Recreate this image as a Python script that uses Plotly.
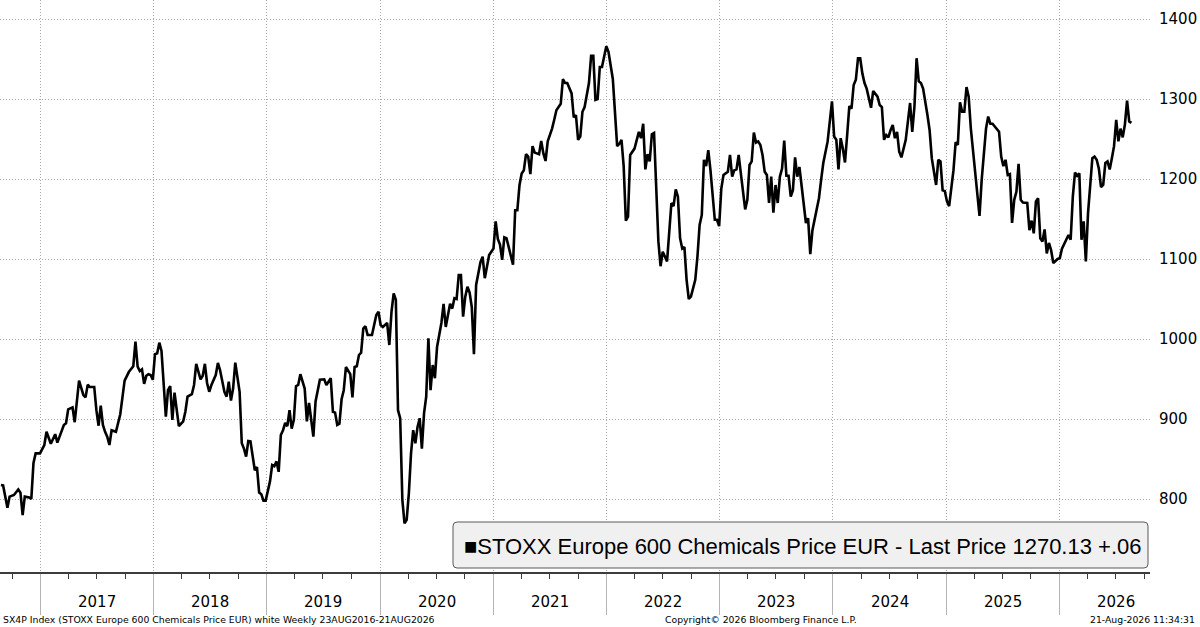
import numpy as np
import pandas as pd
import plotly.graph_objects as go

# ---- data (weekly closes; week index counted from 26-Aug-2016) ----
start_date = "2016-08-26"
weeks = [0,1,3,4,6,8,9,10,11,13,14,15,16,18,20,21,23,25,26,28,29,30,31,33,34,36,38,39,40,41,43,44,45,46,47,48,49,50,51,53,55,57,59,61,62,63,64,65,66,67,68,69,70,71,72,73,74,76,77,78,79,80,81,82,84,85,86,88,89,90,92,93,94,95,96,97,99,100,101,103,104,105,106,107,108,110,111,112,113,114,115,116,117,118,119,120,121,122,123,124,125,126,127,128,129,130,131,132,133,134,135,136,137,138,140,141,142,144,145,147,149,150,152,153,154,155,156,157,158,159,161,162,163,164,165,166,167,168,169,171,173,174,175,176,178,179,180,181,182,183,184,185,186,187,188,189,190,191,192,193,194,195,196,197,198,199,200,201,203,204,205,206,207,208,209,210,211,212,213,214,215,216,217,218,219,221,222,223,225,227,228,229,230,231,232,233,234,236,237,238,239,240,241,242,243,244,245,246,248,249,250,251,252,254,255,256,258,259,260,261,263,264,265,266,267,268,269,271,272,273,274,275,276,277,279,280,282,283,284,285,286,287,288,289,290,292,293,294,295,296,297,298,299,300,301,302,303,304,305,307,308,309,310,311,312,313,314,315,316,317,318,320,321,322,323,324,325,326,327,328,329,330,331,332,333,335,336,337,338,339,340,341,343,344,345,346,347,348,349,350,351,352,353,354,355,356,357,358,359,360,361,362,363,364,365,366,367,368,370,371,372,373,374,376,377,378,379,381,382,383,384,385,386,387,388,389,390,391,392,393,394,395,396,397,398,399,401,402,404,405,406,407,408,409,410,411,412,413,414,415,417,418,419,420,421,422,423,424,425,427,428,429,430,431,432,433,434,435,436,437,439,440,441,442,443,444,445,446,447,448,450,451,452,453,454,455,456,457,459,460,461,462,463,464,465,466,467,468,469,470,471,473,474,475,476,477,478,479,480,481,482,483,484,485,487,488,489,491,492,493,494,495,496,497,498,499,500,501,502,503,504,505,506,507,508,509,510,511,512,513,514,515,516,517,518,519,520,521]
prices = [817.5,817,789,803,805,812,808,780,803,802,800,845,857,857,867.5,884,869,881,870.5,884,892.5,894.6,912,914.6,896,948,930,927,943,940,940,911,891.6,916.7,892.5,884,878,867.5,886,884,906,948,959,966,996.7,965.4,960,962,944,954,956,955,949,981,982,995.4,985,903,936,941,899,933,915,891,897,909,928,931,942.5,969,949.6,954,969,945,934,942.5,955,970,961,934,928,946.7,923,938,970.5,934,869.6,863,853,872.5,872,853,836,840,808,806,798,798,810,822,842.5,841,847,834,880,886,895,891,911,888,899,941,942.5,956,938,897,920,878,922,949,949.6,942.5,951,909,908,892.5,894,924.6,936,965,956,927,965,966,980,983,1013,1016,1005,1005,1030,1034,1017.5,1015,1020,992.5,1034,1057,1049,911,901,799,769.6,774,807,857,886,869.6,890,901,863,907,928,1001,936,967.5,951,990,1020,1044,1015,1032,1044,1038,1051,1050,1080,1080,1028,1053,1065.4,1058,1040,981,1067.5,1096,1103,1076,1105,1113,1147,1125,1118,1099,1127,1126,1114,1093,1161,1161,1192.5,1207,1211,1231,1228,1206,1241,1233,1231,1247.5,1232,1222.5,1247,1263,1274,1286,1294,1325,1320,1320,1307,1277,1280,1249,1253,1284,1290,1320,1354,1354,1299,1300,1340,1340,1366,1359,1325,1283,1241,1244,1249,1216,1148,1153,1230,1238,1249,1259,1251,1269,1212,1231,1222,1256,1257.5,1199,1122,1091,1109,1097,1136,1170,1166,1187,1178,1126,1113,1115,1074,1050,1053,1074,1103,1142.5,1155,1224,1216,1236,1211,1178,1149,1149,1141,1188,1205,1209,1230,1203,1211,1212,1230,1207,1162,1174,1217.5,1222,1258,1245.6,1247,1242.5,1230,1209,1205,1170,1203,1158,1192.5,1170,1203,1213,1248,1204,1204,1178,1186,1227,1203,1215,1172,1145,1151,1106,1136,1166,1176,1199,1220,1247,1276,1297,1253,1249,1212,1251,1238,1220.6,1255,1291,1288,1317.5,1324,1351,1351,1332,1320,1313,1289,1310,1303,1292.5,1290,1249,1255,1252,1261,1267.5,1251,1259,1234,1227,1249,1270,1295,1259,1290,1351,1322,1320,1313,1280,1261,1226,1207,1192.5,1224,1222,1186,1185,1172,1166,1211,1246,1242.5,1296,1284,1284,1315,1303,1263,1236,1174,1154,1199,1232,1263,1278,1269,1269,1263,1259,1228,1216,1224,1205,1206,1145,1174,1184,1219,1174,1170.6,1170,1136,1148,1132,1172,1176,1126,1122,1137,1107,1120,1111,1095,1100,1101,1113,1124,1130,1124,1178,1208,1204,1207,1124,1147,1097,1157,1195,1226,1228,1224,1213,1190,1192.5,1220,1222,1212,1226,1241,1274,1247,1263,1252,1268,1298,1272,1270.13]

y_ticks = [800, 900, 1000, 1100, 1200, 1300, 1400]
year_labels = ["2017", "2018", "2019", "2020", "2021", "2022", "2023", "2024", "2025", "2026"]
series_name = "STOXX Europe 600 Chemicals Price EUR"
last_change = "+.06"
footer_left = "SX4P Index (STOXX Europe 600 Chemicals Price EUR) white Weekly 23AUG2016-21AUG2026"
footer_mid = "Copyright\u00a9 2026 Bloomberg Finance L.P."
footer_right = "21-Aug-2026 11:34:31"

dates = pd.Timestamp(start_date) + pd.to_timedelta(7 * np.array(weeks), unit="D")

# ---- layout geometry (pixels) ----
W, H = 1200, 627
PW, PH = 1150, 572  # plot area width/height
def X(p):
    return p / PW
def Y(p):
    return (PH - p) / PH

fig = go.Figure()
fig.add_trace(go.Scatter(x=dates, y=prices, mode="lines",
                         line=dict(color="#000000", width=2.6), name=series_name,
                         hoverinfo="skip"))

AX_FONT = dict(family="DejaVu Sans", size=15, color="#000000")

fig.update_layout(
    width=W, height=H, autosize=False,
    margin=dict(l=0, r=W - PW, t=0, b=H - PH, pad=0),
    paper_bgcolor="#ffffff", plot_bgcolor="#ffffff",
    showlegend=False,
    xaxis=dict(
        type="date", range=["2016-08-23", "2026-10-20"],
        tick0="2017-01-01", dtick="M12",
        showgrid=True, gridcolor="#a8a8a8", gridwidth=1, griddash="1px,2px",
        showticklabels=False,
        ticks="outside", ticklen=41, tickcolor="#b4b4b4", tickwidth=1,
        showline=True, linecolor="#3c3c3c", linewidth=1.5,
        minor=dict(tick0="2017-01-01", dtick="M3", ticks="outside", ticklen=5,
                   tickcolor="#3c3c3c", tickwidth=1, showgrid=False),
        zeroline=False, fixedrange=True,
    ),
    yaxis=dict(
        side="right", range=[708.75, 1423.75],
        tickvals=y_ticks, ticktext=[str(v) for v in y_ticks],
        showgrid=True, gridcolor="#a8a8a8", gridwidth=1, griddash="1px,2px",
        ticks="", ticklabelstandoff=8, tickfont=AX_FONT,
        showline=False, zeroline=False, fixedrange=True,
    ),
)

annotations = []
# year labels centred mid-year
for lab in year_labels:
    annotations.append(dict(x=f"{lab}-07-02", y=Y(602), xref="x", yref="paper",
                            text=lab, showarrow=False, xanchor="center", yanchor="middle",
                            font=AX_FONT))

# legend box
x0, x1, y0, y1, r = 453, 1148, 522, 568, 4
path = (f"M {X(x0+r)},{Y(y0)} L {X(x1-r)},{Y(y0)} Q {X(x1)},{Y(y0)} {X(x1)},{Y(y0+r)} "
        f"L {X(x1)},{Y(y1-r)} Q {X(x1)},{Y(y1)} {X(x1-r)},{Y(y1)} "
        f"L {X(x0+r)},{Y(y1)} Q {X(x0)},{Y(y1)} {X(x0)},{Y(y1-r)} "
        f"L {X(x0)},{Y(y0+r)} Q {X(x0)},{Y(y0)} {X(x0+r)},{Y(y0)} Z")
fig.add_shape(type="path", path=path, xref="paper", yref="paper", layer="above",
              fillcolor="#f0f0f0", line=dict(color="#5a5a5a", width=1))
legend_text = f"\u25a0{series_name} - Last Price {prices[-1]:.2f} {last_change}"
annotations.append(dict(x=X(462), y=Y(546), xref="paper", yref="paper", text=legend_text,
                        showarrow=False, xanchor="left", yanchor="middle",
                        font=dict(family="Liberation Sans", size=22, color="#000000")))

# footer
FOOT = dict(family="DejaVu Sans", size=9.3, color="#000000")
annotations.append(dict(x=X(1), y=Y(619), xref="paper", yref="paper", text=footer_left,
                        showarrow=False, xanchor="left", yanchor="middle", font=FOOT))
annotations.append(dict(x=X(761), y=Y(619), xref="paper", yref="paper", text=footer_mid,
                        showarrow=False, xanchor="center", yanchor="middle", font=FOOT))
annotations.append(dict(x=X(1197), y=Y(619), xref="paper", yref="paper", text=footer_right,
                        showarrow=False, xanchor="right", yanchor="middle", font=FOOT))

fig.update_layout(annotations=annotations)
fig.write_html("out.html", config={"displayModeBar": False},
               post_script="document.body.style.margin='0';document.body.style.padding='0';document.body.style.overflow='hidden';")
